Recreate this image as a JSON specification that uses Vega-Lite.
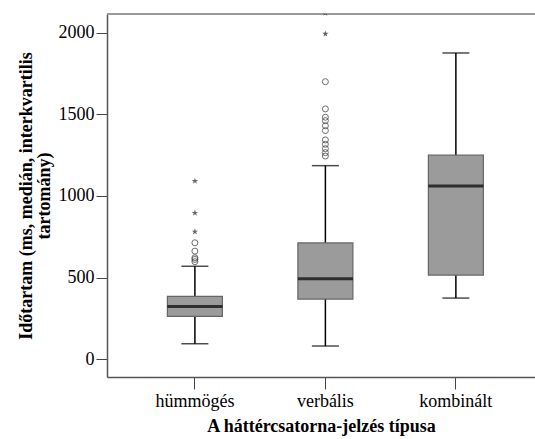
{
  "$schema": "https://vega.github.io/schema/vega-lite/v6.json",
  "width": 428,
  "height": 363,
  "autosize": {"type": "none"},
  "padding": {"left": 107, "top": 14, "right": 0, "bottom": 62},
  "background": "white",
  "config": {
    "view": {"stroke": null},
    "font": "Liberation Serif",
    "axis": {"labelFont": "Liberation Serif", "titleFont": "Liberation Serif", "grid": false}
  },
  "datasets": {
    "stats": [
      {"cat": "hümmögés", "lo": 94, "q1": 262, "med": 323, "q3": 385, "hi": 569},
      {"cat": "verbális", "lo": 80, "q1": 368, "med": 493, "q3": 712, "hi": 1186},
      {"cat": "kombinált", "lo": 374, "q1": 515, "med": 1061, "q3": 1250, "hi": 1877}
    ],
    "circles": [
      {"cat": "hümmögés", "v": 713},
      {"cat": "hümmögés", "v": 662},
      {"cat": "hümmögés", "v": 621},
      {"cat": "hümmögés", "v": 611},
      {"cat": "hümmögés", "v": 597},
      {"cat": "verbális", "v": 1701},
      {"cat": "verbális", "v": 1534},
      {"cat": "verbális", "v": 1483},
      {"cat": "verbális", "v": 1462},
      {"cat": "verbális", "v": 1431},
      {"cat": "verbális", "v": 1401},
      {"cat": "verbális", "v": 1344},
      {"cat": "verbális", "v": 1317},
      {"cat": "verbális", "v": 1290},
      {"cat": "verbális", "v": 1266},
      {"cat": "verbális", "v": 1245}
    ],
    "stars": [
      {"cat": "hümmögés", "v": 1092},
      {"cat": "hümmögés", "v": 896},
      {"cat": "hümmögés", "v": 781},
      {"cat": "verbális", "v": 1994},
      {"cat": "verbális", "v": 2122}
    ]
  },
  "layer": [
    {
      "data": {"values": [{"t": 1}]},
      "mark": {"type": "rule", "color": "#999", "strokeWidth": 2},
      "encoding": {"y": {"datum": 2116, "type": "quantitative", "scale": {"domain": [-110, 2116], "nice": false, "zero": false}}}
    },
    {
      "data": {"name": "stats"},
      "mark": {"type": "rule", "color": "black", "strokeWidth": 1.5},
      "encoding": {
        "x": {
          "field": "cat", "type": "nominal", "sort": ["hümmögés", "verbális", "kombinált"],
          "scale": {"paddingInner": 0, "paddingOuter": 0.14, "align": 0.62},
          "axis": {
            "title": "A háttércsatorna-jelzés típusa",
            "titleFontWeight": "bold", "titleFontSize": 18, "titleColor": "black", "titlePadding": 7,
            "labelAngle": 0, "labelFontSize": 18, "labelColor": "black", "labelPadding": 3,
            "tickSize": 12, "tickColor": "#444", "tickWidth": 1,
            "domainColor": "#555", "domainWidth": 1.5
          }
        },
        "y": {
          "field": "lo", "type": "quantitative",
          "scale": {"domain": [-110, 2116], "nice": false, "zero": false},
          "axis": {
            "title": ["Időtartam (ms, medián, interkvartilis", "tartomány)"],
            "titleFontWeight": "bold", "titleFontSize": 18, "titleColor": "black", "titlePadding": 5,
            "titleLineHeight": 18,
            "values": [0, 500, 1000, 1500, 2000], "format": "d",
            "labelFontSize": 18, "labelColor": "black", "labelPadding": 2,
            "tickSize": 11, "tickColor": "#444", "tickWidth": 1,
            "domainColor": "#555", "domainWidth": 1.5
          }
        },
        "y2": {"field": "hi"}
      }
    },
    {
      "data": {"name": "stats"},
      "mark": {"type": "tick", "color": "black", "size": 27, "thickness": 1.5, "orient": "horizontal"},
      "encoding": {
        "x": {"field": "cat", "type": "nominal", "sort": ["hümmögés", "verbális", "kombinált"]},
        "y": {"field": "lo", "type": "quantitative"}
      }
    },
    {
      "data": {"name": "stats"},
      "mark": {"type": "tick", "color": "black", "size": 27, "thickness": 1.5, "orient": "horizontal"},
      "encoding": {
        "x": {"field": "cat", "type": "nominal", "sort": ["hümmögés", "verbális", "kombinált"]},
        "y": {"field": "hi", "type": "quantitative"}
      }
    },
    {
      "data": {"name": "stats"},
      "mark": {"type": "bar", "size": 55, "fill": "#9b9b9b", "stroke": "#666", "strokeWidth": 1.2},
      "encoding": {
        "x": {"field": "cat", "type": "nominal", "sort": ["hümmögés", "verbális", "kombinált"]},
        "y": {"field": "q1", "type": "quantitative"}, "y2": {"field": "q3"}
      }
    },
    {
      "data": {"name": "stats"},
      "mark": {"type": "tick", "color": "black", "size": 55, "thickness": 3, "orient": "horizontal"},
      "encoding": {
        "x": {"field": "cat", "type": "nominal", "sort": ["hümmögés", "verbális", "kombinált"]},
        "y": {"field": "med", "type": "quantitative"}
      }
    },
    {
      "data": {"name": "circles"},
      "mark": {"type": "point", "shape": "circle", "size": 36, "filled": false, "stroke": "#333", "strokeWidth": 1},
      "encoding": {
        "x": {"field": "cat", "type": "nominal", "sort": ["hümmögés", "verbális", "kombinált"]},
        "y": {"field": "v", "type": "quantitative"}
      }
    },
    {
      "data": {"name": "stars"},
      "mark": {"type": "point", "clip": true, "filled": true, "color": "#222", "size": 45,
        "shape": "M0,-1L0.224,-0.309L0.951,-0.309L0.363,0.118L0.588,0.809L0,0.382L-0.588,0.809L-0.363,0.118L-0.951,-0.309L-0.224,-0.309Z"},
      "encoding": {
        "x": {"field": "cat", "type": "nominal", "sort": ["hümmögés", "verbális", "kombinált"]},
        "y": {"field": "v", "type": "quantitative"}
      }
    }
  ]
}
